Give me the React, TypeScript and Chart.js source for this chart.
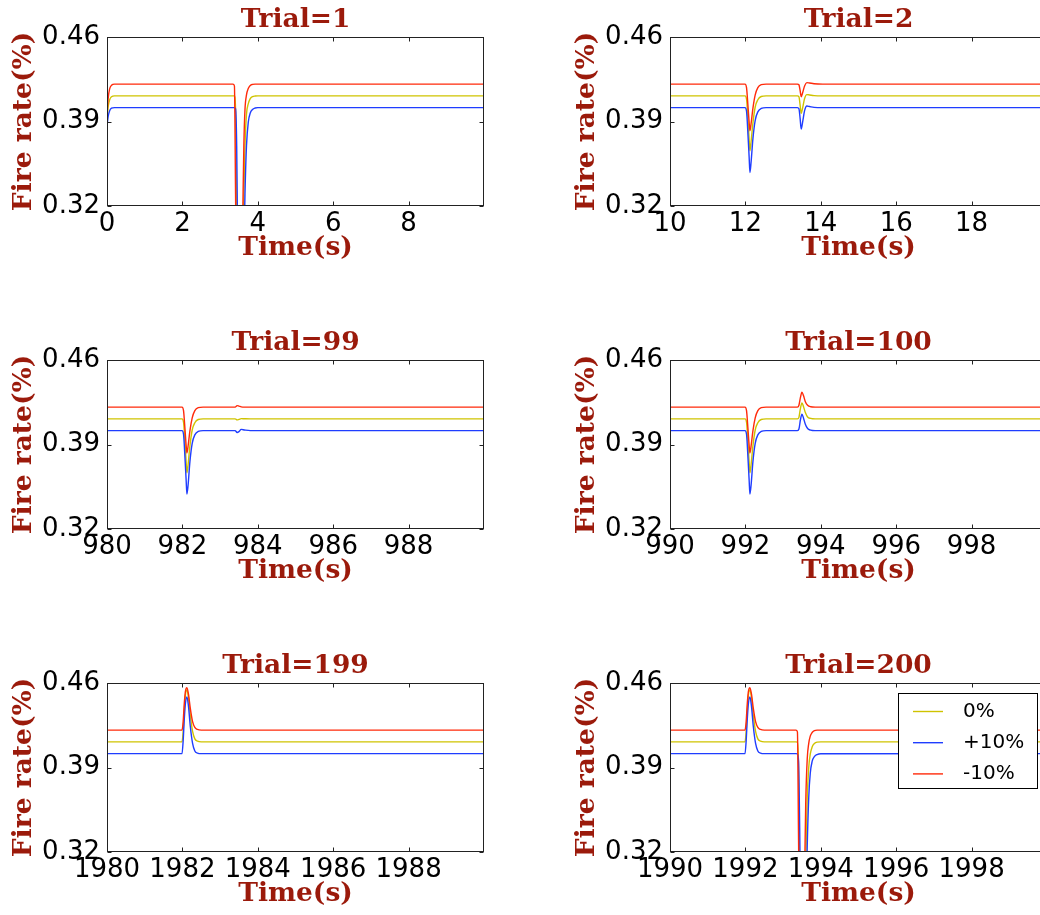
import React, { useEffect, useRef } from "react";
import { Chart, registerables } from "chart.js";

Chart.register(...registerables);

// ---- shared axis values ----
const yTickValues = [0.32, 0.39, 0.46];
const seriesLabels = ["0%", "+10%", "-10%"];

// ---- Trial 1 ----
const trial1Range = [0, 10];
const trial1Ticks = [0, 2, 4, 6, 8];
const trial1Time = [0, 0.03, 0.07, 0.12, 0.2, 0.3, 3.34, 3.38, 3.41, 3.44, 3.47, 3.52, 3.57, 3.6, 3.63, 3.66, 3.7, 3.75, 3.8, 3.86, 3.93, 4.0, 4.2, 10];
const trial1Zero = [0.391, 0.402, 0.408, 0.4105, 0.4112, 0.4112, 0.4112, 0.4112, 0.4, 0.3, 0.22, 0.2, 0.22, 0.27, 0.33, 0.37, 0.396, 0.405, 0.409, 0.4107, 0.4111, 0.4112, 0.4112, 0.4112];
const trial1Plus = [0.386, 0.394, 0.399, 0.401, 0.4015, 0.4015, 0.4015, 0.4015, 0.4005, 0.37, 0.28, 0.2, 0.19, 0.22, 0.28, 0.33, 0.37, 0.39, 0.397, 0.4, 0.4012, 0.4015, 0.4015, 0.4015];
const trial1Minus = [0.395, 0.409, 0.417, 0.42, 0.421, 0.421, 0.421, 0.4195, 0.33, 0.24, 0.22, 0.22, 0.25, 0.31, 0.37, 0.4, 0.412, 0.4175, 0.4198, 0.4207, 0.421, 0.421, 0.421, 0.421];

// ---- Trial 2 ----
const trial2Range = [10, 20];
const trial2Ticks = [10, 12, 14, 16, 18];
const trial2Time = [10, 11.99, 12.03, 12.07, 12.1, 12.12, 12.15, 12.2, 12.26, 12.33, 12.42, 12.55, 13.38, 13.42, 13.45, 13.48, 13.52, 13.57, 13.63, 13.7, 13.82, 14.05, 20];
const trial2Zero = [0.4112, 0.4112, 0.4085, 0.391, 0.375, 0.3657, 0.373, 0.389, 0.402, 0.408, 0.4107, 0.4112, 0.4112, 0.4105, 0.404, 0.3967, 0.4015, 0.409, 0.4123, 0.412, 0.4114, 0.4112, 0.4112];
const trial2Plus = [0.4015, 0.4015, 0.3985, 0.378, 0.36, 0.3478, 0.356, 0.376, 0.391, 0.398, 0.4008, 0.4015, 0.4015, 0.4005, 0.393, 0.3837, 0.39, 0.399, 0.4028, 0.4024, 0.4017, 0.4015, 0.4015];
const trial2Minus = [0.421, 0.421, 0.418, 0.402, 0.389, 0.3823, 0.388, 0.401, 0.412, 0.418, 0.4205, 0.421, 0.421, 0.4205, 0.416, 0.4105, 0.414, 0.4195, 0.4222, 0.4219, 0.4213, 0.421, 0.421];

// ---- Trial 99 ----
const trial99Range = [980, 990];
const trial99Ticks = [980, 982, 984, 986, 988];
const trial99Time = [980, 981.99, 982.03, 982.07, 982.1, 982.12, 982.15, 982.2, 982.26, 982.33, 982.42, 982.55, 983.4, 983.45, 983.5, 983.56, 983.65, 983.8, 990];
const trial99Zero = [0.4112, 0.4112, 0.4085, 0.391, 0.375, 0.3665, 0.373, 0.389, 0.402, 0.408, 0.4107, 0.4112, 0.4112, 0.4104, 0.4108, 0.4114, 0.4113, 0.4112, 0.4112];
const trial99Plus = [0.4015, 0.4015, 0.3985, 0.378, 0.36, 0.349, 0.356, 0.376, 0.391, 0.398, 0.4008, 0.4015, 0.4015, 0.4, 0.4007, 0.4025, 0.402, 0.4015, 0.4015];
const trial99Minus = [0.421, 0.421, 0.418, 0.402, 0.389, 0.3829, 0.3885, 0.4015, 0.412, 0.418, 0.4205, 0.421, 0.421, 0.4222, 0.4218, 0.4212, 0.421, 0.421, 0.421];

// ---- Trial 100 ----
const trial100Range = [990, 1000];
const trial100Ticks = [990, 992, 994, 996, 998];
const trial100Time = [990, 991.99, 992.03, 992.07, 992.1, 992.12, 992.15, 992.2, 992.26, 992.33, 992.42, 992.55, 993.38, 993.42, 993.46, 993.5, 993.54, 993.59, 993.65, 993.73, 993.85, 1000];
const trial100Zero = [0.4112, 0.4112, 0.4085, 0.391, 0.375, 0.3665, 0.373, 0.389, 0.402, 0.408, 0.4107, 0.4112, 0.4112, 0.4125, 0.42, 0.4244, 0.4215, 0.4165, 0.4128, 0.4116, 0.4112, 0.4112];
const trial100Plus = [0.4015, 0.4015, 0.3985, 0.378, 0.36, 0.349, 0.356, 0.376, 0.391, 0.398, 0.4008, 0.4015, 0.4015, 0.4028, 0.4105, 0.4151, 0.412, 0.4068, 0.4032, 0.4019, 0.4015, 0.4015];
const trial100Minus = [0.421, 0.421, 0.418, 0.402, 0.389, 0.3829, 0.3885, 0.4015, 0.412, 0.418, 0.4205, 0.421, 0.421, 0.4225, 0.429, 0.4334, 0.4305, 0.4255, 0.4225, 0.4213, 0.421, 0.421];

// ---- Trial 199 ----
const trial199Range = [1980, 1990];
const trial199Ticks = [1980, 1982, 1984, 1986, 1988];
const trial199Time = [1980, 1981.99, 1982.02, 1982.05, 1982.08, 1982.12, 1982.16, 1982.21, 1982.27, 1982.33, 1982.4, 1982.5, 1990];
const trial199Zero = [0.4112, 0.4112, 0.42, 0.437, 0.45, 0.4542, 0.448, 0.433, 0.42, 0.4137, 0.4118, 0.4112, 0.4112];
const trial199Plus = [0.4015, 0.4015, 0.412, 0.43, 0.443, 0.4485, 0.441, 0.424, 0.41, 0.4037, 0.402, 0.4015, 0.4015];
const trial199Minus = [0.421, 0.421, 0.428, 0.443, 0.453, 0.4562, 0.451, 0.439, 0.428, 0.4232, 0.4215, 0.421, 0.421];

// ---- Trial 200 ----
const trial200Range = [1990, 2000];
const trial200Ticks = [1990, 1992, 1994, 1996, 1998];
const trial200Time = [1990, 1991.99, 1992.02, 1992.05, 1992.08, 1992.12, 1992.16, 1992.21, 1992.27, 1992.33, 1992.4, 1992.5, 1993.34, 1993.38, 1993.41, 1993.44, 1993.47, 1993.52, 1993.56, 1993.6, 1993.64, 1993.68, 1993.72, 1993.77, 1993.83, 1993.9, 1994.0, 2000];
const trial200Zero = [0.4112, 0.4112, 0.42, 0.437, 0.45, 0.4542, 0.448, 0.433, 0.42, 0.4137, 0.4118, 0.4112, 0.4112, 0.411, 0.39, 0.29, 0.22, 0.2, 0.23, 0.31, 0.365, 0.39, 0.401, 0.407, 0.4098, 0.411, 0.4112, 0.4112];
const trial200Plus = [0.4015, 0.4015, 0.412, 0.43, 0.443, 0.4485, 0.441, 0.424, 0.41, 0.4037, 0.402, 0.4015, 0.4015, 0.4013, 0.395, 0.34, 0.26, 0.2, 0.2, 0.26, 0.325, 0.365, 0.385, 0.395, 0.399, 0.4007, 0.4014, 0.4015];
const trial200Minus = [0.421, 0.421, 0.428, 0.443, 0.453, 0.4562, 0.451, 0.439, 0.428, 0.4232, 0.4215, 0.421, 0.421, 0.4195, 0.33, 0.24, 0.22, 0.22, 0.28, 0.36, 0.397, 0.41, 0.416, 0.419, 0.4205, 0.421, 0.421, 0.421];

// ---- styling ----
const SERIES_COLORS = ["#cfc300", "#1f3dff", "#ff2a0a"];
const SERIES_ORDER = [3, 2, 1]; // -10% drawn on top
const LABEL_COLOR = "#9b1a0b";
const SERIF = "'DejaVu Serif', serif";
const SANS = "'DejaVu Sans', sans-serif";
const LABEL_SIZE = 26.5;
const TICK_SIZE = 26;

type PanelDef = {
  title: string;
  time: number[];
  zero: number[];
  plus: number[];
  minus: number[];
  xTicks: number[];
  xRange: number[];
  legend: boolean;
  left: number;
  top: number;
};

const COL_LEFT = [0, 563];
const ROW_TOP = [0, 323, 646];

const panels: PanelDef[] = [
  { title: "Trial=1", time: trial1Time, zero: trial1Zero, plus: trial1Plus, minus: trial1Minus, xTicks: trial1Ticks, xRange: trial1Range, legend: false, left: COL_LEFT[0], top: ROW_TOP[0] },
  { title: "Trial=2", time: trial2Time, zero: trial2Zero, plus: trial2Plus, minus: trial2Minus, xTicks: trial2Ticks, xRange: trial2Range, legend: false, left: COL_LEFT[1], top: ROW_TOP[0] },
  { title: "Trial=99", time: trial99Time, zero: trial99Zero, plus: trial99Plus, minus: trial99Minus, xTicks: trial99Ticks, xRange: trial99Range, legend: false, left: COL_LEFT[0], top: ROW_TOP[1] },
  { title: "Trial=100", time: trial100Time, zero: trial100Zero, plus: trial100Plus, minus: trial100Minus, xTicks: trial100Ticks, xRange: trial100Range, legend: false, left: COL_LEFT[1], top: ROW_TOP[1] },
  { title: "Trial=199", time: trial199Time, zero: trial199Zero, plus: trial199Plus, minus: trial199Minus, xTicks: trial199Ticks, xRange: trial199Range, legend: false, left: COL_LEFT[0], top: ROW_TOP[2] },
  { title: "Trial=200", time: trial200Time, zero: trial200Zero, plus: trial200Plus, minus: trial200Minus, xTicks: trial200Ticks, xRange: trial200Range, legend: true, left: COL_LEFT[1], top: ROW_TOP[2] },
];

const CANVAS_W = 500;
const CANVAS_H = 270;

// Box frame on all four sides with inward tick marks
const frameTicksPlugin = {
  id: "frameTicks",
  afterDatasetsDraw(chart: any) {
    const { ctx, chartArea: a, scales } = chart;
    ctx.save();
    ctx.strokeStyle = "#222";
    ctx.lineWidth = 1;
    const l = Math.round(a.left) + 0.5;
    const r = Math.round(a.right) - 0.5;
    const t = Math.round(a.top) + 0.5;
    const b = Math.round(a.bottom) - 0.5;
    ctx.strokeRect(l, t, r - l, b - t);
    ctx.beginPath();
    scales.x.ticks.forEach((tk: any) => {
      const px = Math.round(scales.x.getPixelForValue(tk.value)) + 0.5;
      ctx.moveTo(px, t);
      ctx.lineTo(px, t + 4);
      ctx.moveTo(px, b);
      ctx.lineTo(px, b - 4);
    });
    scales.y.ticks.forEach((tk: any) => {
      const py = Math.round(scales.y.getPixelForValue(tk.value)) + 0.5;
      ctx.moveTo(l, py);
      ctx.lineTo(l + 4, py);
      ctx.moveTo(r, py);
      ctx.lineTo(r - 4, py);
    });
    ctx.stroke();
    ctx.restore();
  },
};

// Legend box placed in the upper-right corner of the plot area
const boxLegendPlugin = {
  id: "boxLegend",
  afterDraw(chart: any, _args: any, opts: any) {
    if (!opts || !opts.show) return;
    const { ctx, chartArea: a } = chart;
    const w = 139;
    const h = 95;
    const bx = Math.round(a.right - 10 - w);
    const by = Math.round(a.top + 10);
    ctx.save();
    ctx.fillStyle = "#fff";
    ctx.fillRect(bx, by, w, h);
    ctx.strokeStyle = "#000";
    ctx.lineWidth = 1;
    ctx.strokeRect(bx + 0.5, by + 0.5, w, h);
    ctx.font = `20px ${SANS}`;
    ctx.textBaseline = "middle";
    ctx.textAlign = "left";
    chart.data.datasets.forEach((ds: any, i: number) => {
      const ry = by + 18.5 + i * 31.2;
      ctx.strokeStyle = ds.borderColor;
      ctx.lineWidth = 1.4;
      ctx.beginPath();
      ctx.moveTo(bx + 15, ry);
      ctx.lineTo(bx + 45, ry);
      ctx.stroke();
      ctx.fillStyle = "#000";
      ctx.fillText(ds.label, bx + 65, ry);
    });
    ctx.restore();
  },
};

function Panel({ def }: { def: PanelDef }) {
  const ref = useRef<HTMLCanvasElement | null>(null);

  useEffect(() => {
    const canvas = ref.current;
    if (!canvas) return;
    const seriesValues = [def.zero, def.plus, def.minus];
    const labelFont = { family: SERIF, weight: "bold", size: LABEL_SIZE, lineHeight: 1.2 };
    const tickFont = { family: SANS, size: TICK_SIZE, lineHeight: 1.2 };
    const chart = new Chart(canvas, {
      type: "line",
      data: {
        datasets: seriesValues.map((vals, i) => ({
          label: seriesLabels[i],
          data: def.time.map((t, k) => ({ x: t, y: vals[k] })),
          borderColor: SERIES_COLORS[i],
          backgroundColor: SERIES_COLORS[i],
          borderWidth: 1.4,
          pointRadius: 0,
          fill: false,
          cubicInterpolationMode: "monotone" as const,
          clip: 0,
          order: SERIES_ORDER[i],
        })),
      },
      options: {
        animation: false,
        responsive: false,
        maintainAspectRatio: false,
        events: [],
        layout: { padding: { left: 0, right: 16, top: 0, bottom: 0 } },
        plugins: {
          legend: { display: false },
          tooltip: { enabled: false },
          title: {
            display: true,
            fullSize: false,
            text: def.title,
            color: LABEL_COLOR,
            font: labelFont,
            padding: { top: 4.2, bottom: 1.0 },
          },
          boxLegend: { show: def.legend },
        } as any,
        scales: {
          x: {
            type: "linear",
            min: def.xRange[0],
            max: def.xRange[1],
            afterBuildTicks: (s: any) => {
              s.ticks = def.xTicks.map((v) => ({ value: v }));
            },
            afterFit: (s: any) => {
              s.height = 64;
            },
            grid: { display: false, drawTicks: false },
            border: { display: false },
            ticks: {
              color: "#000",
              font: tickFont,
              padding: 3,
              autoSkip: false,
              maxRotation: 0,
              minRotation: 0,
              callback: (v: any) => String(v),
            },
            title: {
              display: true,
              text: "Time(s)",
              color: LABEL_COLOR,
              font: labelFont,
              padding: { top: 0, bottom: 6.3 },
            },
          },
          y: {
            type: "linear",
            min: 0.32,
            max: 0.46,
            afterBuildTicks: (s: any) => {
              s.ticks = yTickValues.map((v) => ({ value: v }));
            },
            afterFit: (s: any) => {
              s.width = 107;
            },
            grid: { display: false, drawTicks: false },
            border: { display: false },
            ticks: {
              color: "#000",
              font: tickFont,
              padding: 7,
              callback: (v: any) => Number(v).toFixed(2),
            },
            title: {
              display: true,
              text: "Fire rate(%)",
              color: LABEL_COLOR,
              font: labelFont,
              padding: { top: 8.4, bottom: 0 },
            },
          },
        },
      } as any,
      plugins: [frameTicksPlugin, boxLegendPlugin],
    });
    return () => chart.destroy();
  }, [def]);

  return (
    <canvas
      ref={ref}
      width={CANVAS_W}
      height={CANVAS_H}
      style={{ position: "absolute", left: def.left, top: def.top, width: CANVAS_W, height: CANVAS_H }}
    />
  );
}

export default function App() {
  return (
    <div
      style={{
        position: "absolute",
        left: 0,
        top: 0,
        width: 1040,
        height: 915,
        overflow: "hidden",
        background: "#fff",
      }}
    >
      {panels.map((p) => (
        <Panel key={p.title} def={p} />
      ))}
    </div>
  );
}
